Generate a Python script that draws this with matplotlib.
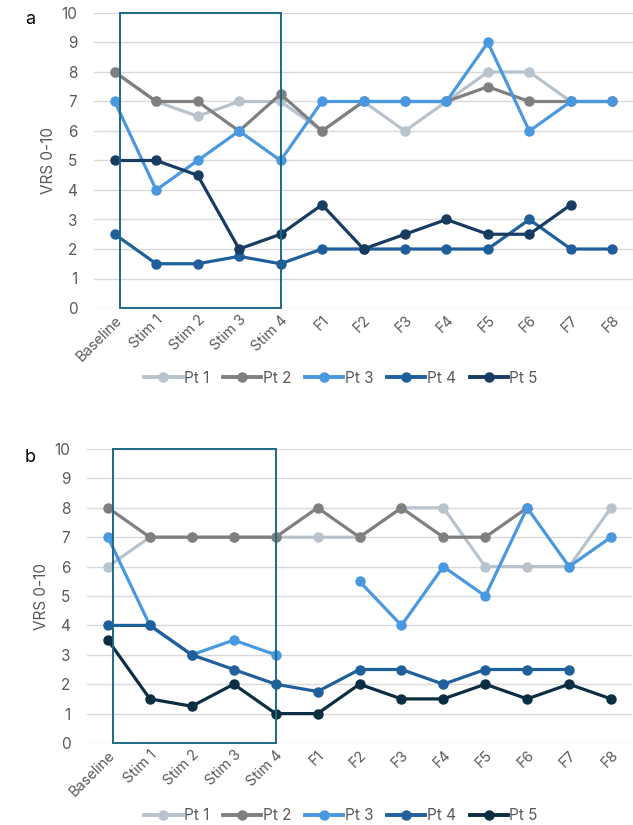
import numpy as np
import matplotlib.pyplot as plt
from matplotlib.patches import Rectangle
from matplotlib.lines import Line2D

plt.rcParams['font.family'] = ['Inter', 'DejaVu Sans']

categories = ["Baseline", "Stim 1", "Stim 2", "Stim 3", "Stim 4",
              "F1", "F2", "F3", "F4", "F5", "F6", "F7", "F8"]
series_names = ["Pt 1", "Pt 2", "Pt 3", "Pt 4", "Pt 5"]
nan = np.nan

# panel a
a_pt1 = [8, 7, 6.5, 7, 7, 6, 7, 6, 7, 8, 8, 7, 7]
a_pt2 = [8, 7, 7, 6, 7.25, 6, 7, 7, 7, 7.5, 7, 7, 7]
a_pt3 = [7, 4, 5, 6, 5, 7, 7, 7, 7, 9, 6, 7, 7]
a_pt4 = [2.5, 1.5, 1.5, 1.75, 1.5, 2, 2, 2, 2, 2, 3, 2, 2]
a_pt5 = [5, 5, 4.5, 2, 2.5, 3.5, 2, 2.5, 3, 2.5, 2.5, 3.5, nan]

# panel b
b_pt1 = [6, 7, 7, 7, 7, 7, 7, 8, 8, 6, 6, 6, 8]
b_pt2 = [8, 7, 7, 7, 7, 8, 7, 8, 7, 7, 8, nan, nan]
b_pt3 = [7, 4, 3, 3.5, 3, nan, 5.5, 4, 6, 5, 8, 6, 7]
b_pt4 = [4, 4, 3, 2.5, 2, 1.75, 2.5, 2.5, 2, 2.5, 2.5, 2.5, nan]
b_pt5 = [3.5, 1.5, 1.25, 2, 1, 1, 2, 1.5, 1.5, 2, 1.5, 2, 1.5]

colors_a = ["#b8c3cd", "#7f7f7f", "#4a98df", "#1f5f9b", "#183b62"]
colors_b = ["#b8c3cd", "#7f7f7f", "#4a98df", "#1f5f9b", "#0c2e42"]
box_color = "#1f6887"
text_color = "#595959"

fig = plt.figure(figsize=(6.33, 8.25), dpi=100)
ax_a = fig.add_axes([94/633, 1-308/825, 539/633, 295/825])
ax_b = fig.add_axes([87/633, 1-743/825, 545/633, 294/825])

x = np.arange(len(categories))

def draw(ax, data, colors, label, label_y, legend_y):
    for vals, c, name in zip(data, colors, series_names):
        ax.plot(x, vals, color=c, lw=2.3, marker='o', ms=6.5, label=name,
                solid_capstyle='round')
    ax.set_ylim(0, 10)
    ax.set_xlim(-0.5, len(categories)-0.5)
    ax.set_yticks(range(0, 11))
    ax.yaxis.grid(True, color='#d9d9d9', lw=1.0)
    ax.set_axisbelow(True)
    for s in ax.spines.values():
        s.set_visible(False)
    ax.tick_params(length=0, colors=text_color, labelsize=10.5)
    ax.tick_params(axis='y', labelsize=11, pad=12)
    ax.set_xticks(x)
    ax.set_xticklabels(categories, rotation=45, ha='right', rotation_mode='anchor')
    ax.set_ylabel("VRS 0-10", color=text_color, fontsize=11, labelpad=4)
    ax.add_patch(Rectangle((0.12, 0), 3.88, 10, fill=False, ec=box_color,
                           lw=1.4, clip_on=False, zorder=5))
    fig.text(25/633, label_y, label, fontsize=13, va='center', ha='left')
    handles = [Line2D([], [], color=c, lw=2.8, marker='o', ms=6.5) for c in colors]
    fig.legend(handles, series_names, loc='center', ncol=5,
               bbox_to_anchor=(341/633, legend_y), frameon=False,
               fontsize=11, labelcolor=text_color, handlelength=2.5,
               handletextpad=0.1, columnspacing=0.9)

draw(ax_a, [a_pt1, a_pt2, a_pt3, a_pt4, a_pt5], colors_a, "a", 1-20/825, 1-378/825)
draw(ax_b, [b_pt1, b_pt2, b_pt3, b_pt4, b_pt5], colors_b, "b", 1-458/825, 1-816/825)

fig.savefig("out.png", dpi=100)
